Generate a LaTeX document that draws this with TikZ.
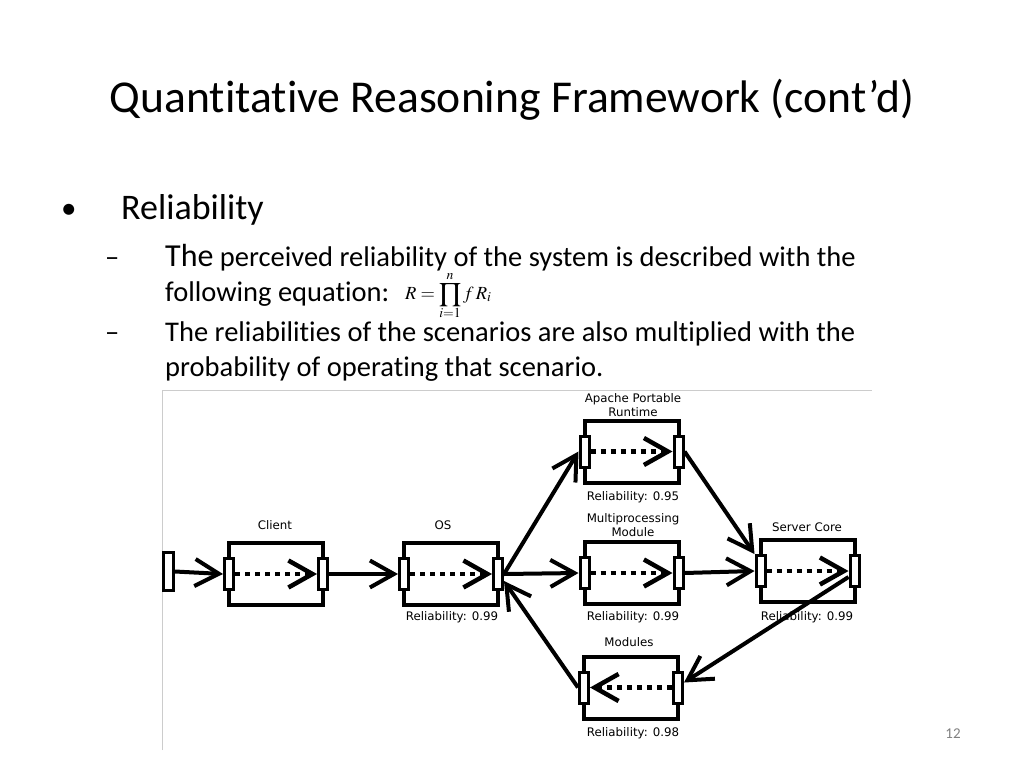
\documentclass[tikz,border=0pt]{standalone}
\usepackage{amsmath}
\usepackage{mathptmx}
\usepackage{fontspec}
\setmainfont{Carlito}[Ligatures=NoCommon]
\newfontfamily\diagfont{DejaVu Sans}
\usetikzlibrary{arrows.meta,calc}
\begin{document}
\begin{tikzpicture}[x=1pt,y=-1pt,
  box/.style={draw, line width=4pt, minimum width=94pt, minimum height=62pt, inner sep=0pt, outer sep=0pt},
  port/.style={draw, fill=white, line width=3pt, minimum width=9pt, minimum height=31pt, inner sep=0pt},
  conn/.style={line width=4pt, -{Straight Barb[length=24pt,width=27pt]}},
  innerarrow/.style={line width=4.5pt, dash pattern=on 5pt off 5pt, -{Straight Barb[length=24pt,width=27pt]}},
  lbl/.style={font={\diagfont\fontsize{11.8}{14}\selectfont}, align=center, inner sep=0pt},
  txt/.style={anchor=base west, inner sep=0pt, font={\fontsize{28.5}{35}\selectfont}},
]
\useasboundingbox (0,0) rectangle (1024,768);
% picture frame
\draw[black!20, line width=1pt] (162,750) -- (162,390) -- (872,390);
% title and text
\node[anchor=base, inner sep=0pt, font={\fontsize{45.6}{54}\selectfont}] (title) at (512,112) {Quantitative Reasoning Framework (cont’d)};
\node[anchor=base west, inner sep=0pt, font={\fontsize{31}{37}\selectfont}] (bul) at (61,218) {•};
\node[anchor=base west, inner sep=0pt, font={\fontsize{36}{42}\selectfont}] (rel) at (121,219) {Reliability};
\node[txt] (d1) at (105,266) {–};
\node[txt] (l1) at (165,266) {{\fontsize{32}{35}\selectfont The} perceived reliability of the system is described with the};
\node[txt] (l2) at (165,301) {following equation:};
\node[anchor=base west, inner sep=0pt, font={\fontsize{18.5}{21}\selectfont}] (eq) at (405,299) {$R=\displaystyle\prod_{i=1}^{n} f\,R_i$};
\node[txt] (d2) at (105,341) {–};
\node[txt] (l3) at (165,341) {The reliabilities of the scenarios are also multiplied with the};
\node[txt] (l4) at (165,376) {probability of operating that scenario.};
\node[inner sep=0pt, text=black!50, font={\fontsize{15}{18}\selectfont}] (pg) at (953,734) {12};
% boxes
\node[box] (client) at (276,574) {};
\node[box] (os) at (451,574) {};
\node[box] (apr) at (631.5,451.5) {};
\node[box] (mpm) at (631.5,573) {};
\node[box] (sc) at (807.5,571) {};
\node[box] (mod) at (631,687.5) {};
% labels
\node[lbl] (lclient) at (275,525) {Client};
\node[lbl] (los) at (443,525) {OS};
\node[lbl] (ros) at (452,617) {Reliability: 0.99};
\node[lbl] (lapr) at (633,405) {Apache Portable\\Runtime};
\node[lbl] (rapr) at (633,497) {Reliability: 0.95};
\node[lbl] (lmpm) at (633,525.5) {Multiprocessing\\Module};
\node[lbl] (rmpm) at (633,617) {Reliability: 0.99};
\node[lbl] (lsc) at (807,527) {Server Core};
\node[lbl] (rsc) at (807,617) {Reliability: 0.99};
\node[lbl] (lmod) at (629,642) {Modules};
\node[lbl] (rmod) at (633,733) {Reliability: 0.98};
% ports
\node[port, minimum width=10pt, minimum height=38pt] (start) at (168.5,571.5) {};
\foreach \b in {client,os,apr,mpm,sc,mod}{
  \node[port] (\b L) at (\b.west) {};
  \node[port] (\b R) at (\b.east) {};
}
% internal dotted arrows
\draw[innerarrow] (clientL.east) -- (clientR.west);
\draw[innerarrow] (osL.east) -- (osR.west);
\draw[innerarrow] (aprL.east) -- (aprR.west);
\draw[innerarrow] (mpmL.east) -- (mpmR.west);
\draw[innerarrow] (scL.east) -- (scR.west);
\draw[innerarrow] (modR.west) -- (modL.east);
% connectors
\draw[conn] (start.east) -- (clientL.west);
\draw[conn] (clientR.east) -- (osL.west);
\draw[conn] (osR.east) -- (aprL.west);
\draw[conn] (osR.east) -- (mpmL.west);
\draw[conn] (aprR.east) -- (scL.north west);
\draw[conn] (mpmR.east) -- (scL.west);
\draw[conn] ([yshift=-6pt]scR.west) -- ([yshift=5pt]modR.east);
\draw[conn] (modL.west) -- ([yshift=-7pt]osR.east);
\end{tikzpicture}
\end{document}
